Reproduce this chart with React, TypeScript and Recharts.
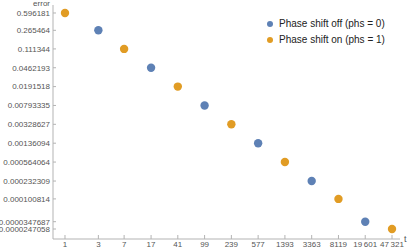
import { Scatter, ScatterChart, XAxis, YAxis } from 'recharts'

// t values and errors, phase shift off (phs = 0)
const phsOffT = [3, 17, 99, 577, 3363, 19601]
const phsOffErr = [0.265464, 0.0462193, 0.00793335, 0.00136094, 0.000232309, 0.0000347687]

// phase shift on (phs = 1)
const phsOnT = [1, 7, 41, 239, 1393, 8119, 47321]
const phsOnErr = [0.596181, 0.111344, 0.0191518, 0.00328627, 0.000564064, 0.000100814, 0.0000247058]

const xTicks = [1, 3, 7, 17, 41, 99, 239, 577, 1393, 3363, 8119, 19601, 47321]
const yTicks = [
  0.596181, 0.265464, 0.111344, 0.0462193, 0.0191518, 0.00793335, 0.00328627,
  0.00136094, 0.000564064, 0.000232309, 0.000100814, 0.0000347687, 0.0000247058,
]

const BLUE = '#5e81b5'
const ORANGE = '#e19c24'
const AXIS = '#b3b3b3'
const LABEL = '#555'

const offData = phsOffT.map((t, i) => ({ t, err: phsOffErr[i] }))
const onData = phsOnT.map((t, i) => ({ t, err: phsOnErr[i] }))

const series = [
  { name: 'Phase shift off (phs = 0)', color: BLUE },
  { name: 'Phase shift on (phs = 1)', color: ORANGE },
]

function Dot({ cx, cy, fill }: any) {
  return <circle cx={cx} cy={cy} r={4.2} fill={fill} />
}

function fmtT(v: number) {
  const s = String(v)
  return v >= 10000 ? s.slice(0, s.length - 3) + '\u2009' + s.slice(-3) : s
}

// legend sits on top of the plot, like the original
function LegendBox() {
  return (
    <div
      style={{
        position: 'absolute',
        left: 267,
        top: 16,
        fontSize: 10,
        color: '#222',
        lineHeight: '16px',
      }}
    >
      {series.map((s) => (
        <div key={s.name} style={{ display: 'flex', alignItems: 'center', whiteSpace: 'pre' }}>
          <span
            style={{
              width: 6,
              height: 6,
              borderRadius: 3,
              background: s.color,
              marginRight: 6,
              display: 'inline-block',
            }}
          />
          {s.name}
        </div>
      ))}
    </div>
  )
}

export default function App() {
  return (
    <div
      style={{
        position: 'absolute',
        left: 0,
        top: 0,
        width: 409,
        height: 250,
        background: '#fff',
        fontFamily: '"Liberation Sans", Arial, sans-serif',
      }}
    >
      <ScatterChart width={409} height={250} margin={{ top: 5, right: 9, bottom: 0, left: 0 }}>
        <XAxis
          dataKey="t"
          type="number"
          scale="log"
          domain={[0.6737, 61563]}
          allowDataOverflow
          ticks={xTicks}
          interval={0}
          height={11}
          tickFormatter={fmtT}
          tick={{ fill: LABEL, fontSize: 8 }}
          tickSize={-4}
          tickMargin={6}
          stroke={AXIS}
          label={({ viewBox }: any) => (
            <text x={viewBox.x + viewBox.width + 4} y={viewBox.y + 3} fontSize={9} fill={LABEL}>
              t
            </text>
          )}
        />
        <YAxis
          dataKey="err"
          type="number"
          scale="log"
          domain={[1.549e-5, 0.8663]}
          allowDataOverflow
          ticks={yTicks}
          interval={0}
          width={53}
          tickFormatter={(v: number) => String(v)}
          tick={{ fill: LABEL, fontSize: 8 }}
          tickSize={-3}
          tickMargin={6}
          stroke={AXIS}
          label={({ viewBox }: any) => (
            <text
              x={viewBox.x + viewBox.width - 3}
              y={viewBox.y + 1}
              fontSize={8}
              fill={LABEL}
              textAnchor="end"
            >
              error
            </text>
          )}
        />
        <Scatter
          name={series[0].name}
          data={offData}
          fill={BLUE}
          shape={<Dot />}
          isAnimationActive={false}
        />
        <Scatter
          name={series[1].name}
          data={onData}
          fill={ORANGE}
          shape={<Dot />}
          isAnimationActive={false}
        />
      </ScatterChart>
      <LegendBox />
    </div>
  )
}
